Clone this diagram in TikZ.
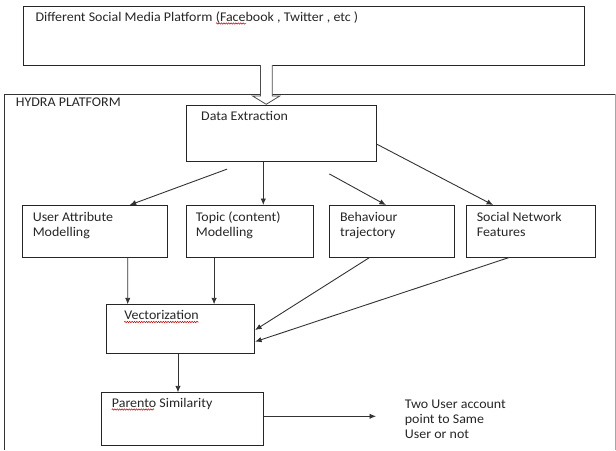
\documentclass[tikz,border=0pt]{standalone}
\usepackage{fontspec}
\setmainfont{Carlito}[FakeStretch=1.05]
\usetikzlibrary{arrows.meta,decorations.pathmorphing}
\begin{document}
\begin{tikzpicture}[x=1pt,y=-1pt,
  box/.style={draw=black!85, line width=0.9pt, rectangle, anchor=north west, inner sep=0pt},
  txt/.style={anchor=base west, inner sep=0pt, align=left, font=\fontsize{13.3}{15.3}\selectfont, text=black!85},
  conn/.style={draw=black!80, line width=0.9pt, -{Latex[length=6.5pt,width=5.5pt]}},
  wavy/.style={draw=red!75!black, line width=0.5pt, decorate, decoration={snake, amplitude=0.7pt, segment length=2.4pt}}
]
\useasboundingbox (0,0) rectangle (616,450);
% source box
\node[box, minimum width=561.5pt, minimum height=59pt] (src) at (22.8,6) {};
\node[txt] (src-t) at (35.4,21) {Different Social Media Platform (Facebook , Twitter , etc )};
% hydra frame
\draw[draw=black!80, line width=0.9pt] (4.7,450) -- (4.7,94) -- (615,94);
\draw[draw=black!35, line width=0.7pt] (615,94) -- (615,450);
\node[txt] (hydra-t) at (15.7,106) {HYDRA PLATFORM};
% hollow arrow
\draw[draw=black!70, line width=0.8pt, fill=white] (260.5,65) -- (260.5,96) -- (252.6,96) -- (266.2,104.3) -- (279.8,96) -- (272.3,96) -- (272.3,65);
% boxes
\node[box, minimum width=190.1pt, minimum height=55.7pt] (de) at (185.5,105) {};
\node[txt] (de-t) at (201,120.7) {Data Extraction};
\node[box, minimum width=144.2pt, minimum height=51.7pt] (ua) at (22.4,205) {};
\node[txt] (ua-t) at (32.6,236.3) {User Attribute\\Modelling};
\node[box, minimum width=127.7pt, minimum height=51.7pt] (tp) at (185.5,205) {};
\node[txt] (tp-t) at (195.7,236.3) {Topic (content)\\Modelling};
\node[box, minimum width=124.5pt, minimum height=51.7pt] (bh) at (329.3,205) {};
\node[txt] (bh-t) at (339.9,236.3) {Behaviour\\trajectory};
\node[box, minimum width=128.1pt, minimum height=51.7pt] (sn) at (466.4,205) {};
\node[txt] (sn-t) at (476.6,236.3) {Social Network\\Features};
\node[box, minimum width=148.1pt, minimum height=49pt] (v) at (106.1,304.3) {};
\node[txt] (v-t) at (124.2,319.3) {Vectorization};
\node[box, minimum width=161.9pt, minimum height=52.7pt] (p) at (101.4,392.3) {};
\node[txt] (p-t) at (111.7,407) {Parento Similarity};
\node[txt] (out) at (404.7,438.9) {Two User account\\point to Same\\User or not};
\coordinate (outtip) at (376,416.3);
% connectors
\draw[conn] ([xshift=41.6pt,yshift=-7.5pt]de.south west) -- ([xshift=107.3pt]ua.north west);
\draw[conn] ([xshift=77.8pt]de.south west) -- ([xshift=77.8pt]tp.north west);
\draw[conn] ([xshift=143.8pt,yshift=-12.3pt]de.south west) -- ([xshift=56.6pt]bh.north west);
\draw[conn] ([yshift=-39pt]de.north east) -- ([xshift=26.7pt]sn.north west);
\draw[conn] ([xshift=105.3pt]ua.south west) -- ([xshift=21.6pt]v.north west);
\draw[conn] ([xshift=28.6pt]tp.south west) -- ([xshift=108pt]v.north west);
\draw[conn] ([xshift=40.1pt]bh.south west) -- ([yshift=-25.7pt]v.north east);
\draw[conn] ([xshift=42.4pt]sn.south west) -- ([yshift=-37.4pt]v.north east);
\draw[conn] ([xshift=71.9pt]v.south west) -- ([xshift=76.6pt]p.north west);
\draw[conn] ([yshift=-24pt]p.north east) -- (outtip);
% spell-check underlines
\draw[wavy] (216,23.5) -- (246,23.5);
\draw[wavy] (124.2,322) -- (198.5,322);
\draw[wavy] (111.7,409.5) -- (154,409.5);
\end{tikzpicture}
\end{document}
